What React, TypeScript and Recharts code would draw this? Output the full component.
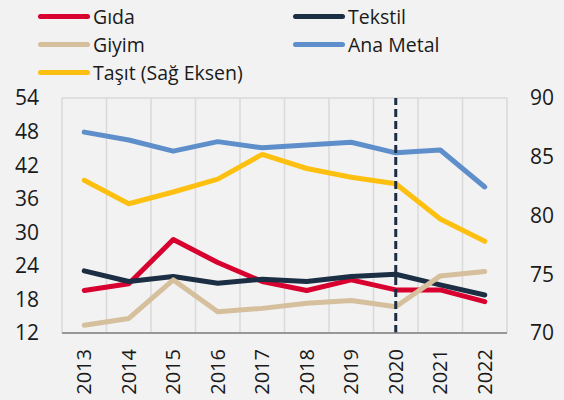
import React from "react";
import {
  LineChart, Line, XAxis, YAxis, CartesianGrid, Legend, ReferenceLine
} from "recharts";

const years = ["2013", "2014", "2015", "2016", "2017", "2018", "2019", "2020", "2021", "2022"];
const gida = [19.6, 20.8, 28.7, 24.6, 21.2, 19.6, 21.5, 19.7, 19.7, 17.6];
const tekstil = [23.1, 21.2, 22.1, 20.9, 21.6, 21.2, 22.1, 22.5, 20.6, 18.8];
const giyim = [13.4, 14.6, 21.5, 15.8, 16.4, 17.3, 17.8, 16.7, 22.2, 23.0];
const anaMetal = [47.9, 46.5, 44.5, 46.2, 45.1, 45.6, 46.1, 44.2, 44.7, 38.1];
const tasit = [83.0, 81.0, 82.0, 83.1, 85.2, 84.0, 83.25, 82.7, 79.7, 77.8];
const leftTicks = [12, 18, 24, 30, 36, 42, 48, 54];
const rightTicks = [70, 75, 80, 85, 90];

const series = [
  { key: "gida", name: "Gıda", color: "#d7002f", axis: "left" },
  { key: "tekstil", name: "Tekstil", color: "#1c2e44", axis: "left" },
  { key: "giyim", name: "Giyim", color: "#d5bf9d", axis: "left" },
  { key: "anaMetal", name: "Ana Metal", color: "#5e8fca", axis: "left" },
  { key: "tasit", name: "Taşıt (Sağ Eksen)", color: "#fdc010", axis: "right" },
];

const data = years.map((year, i) => ({
  year,
  gida: gida[i],
  tekstil: tekstil[i],
  giyim: giyim[i],
  anaMetal: anaMetal[i],
  tasit: tasit[i],
}));

const font = "'Open Sans', sans-serif";

// two-column legend, last entry alone on the third row
function LegendBox() {
  return (
    <div style={{ position: "relative", width: 564, height: 90, fontFamily: font, fontSize: 19.5, color: "#1a1a1a" }}>
      {series.map((s, i) => {
        const col = i === 4 ? 0 : i % 2;
        const row = i === 4 ? 2 : Math.floor(i / 2);
        return (
          <div
            key={s.key}
            style={{
              position: "absolute",
              left: col === 0 ? 38 : 293,
              top: 2 + row * 28,
              display: "flex",
              alignItems: "center",
              height: 28,
              whiteSpace: "nowrap",
            }}
          >
            <span style={{ display: "inline-block", width: 52, height: 5, borderRadius: 3, background: s.color, marginRight: 3 }} />
            <span>{s.name}</span>
          </div>
        );
      })}
    </div>
  );
}

function YearTick({ x, y, payload }: any) {
  return (
    <text
      x={x}
      y={y}
      transform={`rotate(-90, ${x}, ${y})`}
      textAnchor="end"
      dy="0.35em"
      fontSize={20}
      fontFamily={font}
      fill="#1a1a1a"
    >
      {payload.value}
    </text>
  );
}

export default function App() {
  return (
    <div style={{ width: 564, height: 400, background: "#f2f2f2", position: "relative" }}>
      <style>{`body{margin:0}`}</style>
      <LineChart width={564} height={400} data={data} margin={{ top: 98, right: 0, bottom: 0, left: 0 }}>
        <CartesianGrid
          stroke="#d9d9d9"
          strokeWidth={1.5}
          verticalCoordinatesGenerator={({ offset }: any) =>
            years.concat([""]).map((_, i) => offset.left + (i * offset.width) / years.length)
          }
        />
        <XAxis
          dataKey="year"
          height={67}
          padding={{ left: 22.25, right: 22.25 }}
          axisLine={{ stroke: "#7f7f7f", strokeWidth: 1.5 }}
          tickLine={false}
          tickMargin={10}
          interval={0}
          tick={<YearTick />}
        />
        <YAxis
          yAxisId="left"
          width={62}
          domain={[12, 54]}
          ticks={leftTicks}
          axisLine={false}
          tickLine={false}
          tickMargin={17}
          tick={{ fontSize: 21, fontFamily: font, fill: "#1a1a1a" }}
        />
        <YAxis
          yAxisId="right"
          orientation="right"
          width={57}
          domain={[70, 90]}
          ticks={rightTicks}
          axisLine={false}
          tickLine={false}
          tickMargin={17}
          tick={{ fontSize: 21, fontFamily: font, fill: "#1a1a1a", textAnchor: "start" }}
        />
        <Legend
          verticalAlign="middle"
          align="center"
          wrapperStyle={{ top: 0, left: 0, width: 564, height: 90 }}
          content={() => <LegendBox />}
        />
        {series.map((s) => (
          <Line
            key={s.key}
            yAxisId={s.axis}
            dataKey={s.key}
            name={s.name}
            stroke={s.color}
            strokeWidth={5}
            strokeLinecap="round"
            strokeLinejoin="round"
            dot={false}
            activeDot={false}
            isAnimationActive={false}
          />
        ))}
        <ReferenceLine yAxisId="left" x="2020" stroke="#1c2e44" strokeWidth={3} strokeDasharray="8 4" />
      </LineChart>
    </div>
  );
}
